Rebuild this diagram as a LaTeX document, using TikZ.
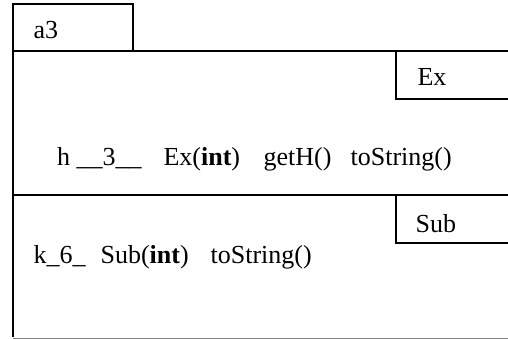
\documentclass[tikz,border=0pt]{standalone}
\usepackage{fontspec}
\setmainfont{Liberation Serif}
\usepackage{tikz}

\begin{document}
\begin{tikzpicture}[x=1pt,y=-1pt,line width=1.2pt,
    lbl/.style={anchor=base west,inner sep=0pt,font=\fontsize{26}{30}\selectfont}]
    \useasboundingbox (0,0) rectangle (508,339);
    % Package frame with tab
    \draw (13,337) -- (13,4) -- (133,4) -- (133,51);
    \draw (13,51) -- (508,51);
    \draw (13,195) -- (508,195);
    \draw[gray,line width=1pt] (13,338) -- (508,338);
    % Class name boxes
    \draw (508,99) -- (396,99) -- (396,51);
    \draw (508,243) -- (396,243) -- (396,195);

    % Package name
    \node[lbl] (pkg) at (33,39) {a3};
    % Class Ex
    \node[lbl] (exname) at (417,86) {Ex};
    \node[lbl] (exfield) at (56.5,165) {h \_\_3\_\_};
    \node[lbl] (exctor) at (163,165) {Ex(\textbf{int})};
    \node[lbl] (exget) at (263,165) {getH()};
    \node[lbl] (exstr) at (350,165) {toString()};
    % Class Sub
    \node[lbl] (subname) at (415,232) {Sub};
    \node[lbl] (subfield) at (33,263) {k\_6\_};
    \node[lbl] (subctor) at (100,263) {Sub(\textbf{int})};
    \node[lbl] (substr) at (210,263) {toString()};
\end{tikzpicture}
\end{document}
